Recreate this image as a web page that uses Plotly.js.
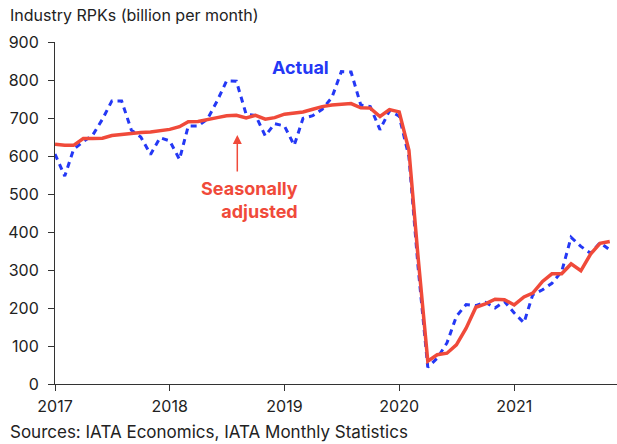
<!DOCTYPE html>
<html>
<head>
<meta charset="utf-8">
<script src="https://cdn.plot.ly/plotly-3.0.1.min.js"></script>
<style>html,body{margin:0;padding:0;background:#fff;}#chart{width:617px;height:444px;}</style>
</head>
<body>
<div id="chart"></div>
<script>
const months = [
 "2017-01-01","2017-02-01","2017-03-01","2017-04-01","2017-05-01","2017-06-01","2017-07-01","2017-08-01","2017-09-01","2017-10-01","2017-11-01","2017-12-01",
 "2018-01-01","2018-02-01","2018-03-01","2018-04-01","2018-05-01","2018-06-01","2018-07-01","2018-08-01","2018-09-01","2018-10-01","2018-11-01","2018-12-01",
 "2019-01-01","2019-02-01","2019-03-01","2019-04-01","2019-05-01","2019-06-01","2019-07-01","2019-08-01","2019-09-01","2019-10-01","2019-11-01","2019-12-01",
 "2020-01-01","2020-02-01","2020-03-01","2020-04-01","2020-05-01","2020-06-01","2020-07-01","2020-08-01","2020-09-01","2020-10-01","2020-11-01","2020-12-01",
 "2021-01-01","2021-02-01","2021-03-01","2021-04-01","2021-05-01","2021-06-01","2021-07-01","2021-08-01","2021-09-01","2021-10-01","2021-11-01"
];
const actual = [
 605,547,617,638,655,697,745,745,668,650,604,648,
 640,591,679,679,697,745,798,797,710,707,653,685,
 679,628,699,706,723,754,822,821,734,730,669,719,
 705,598,309,44,68,108,178,209,206,215,200,217,
 187,161,235,248,265,296,386,362,344,372,353
];
const seasonallyAdjusted = [
 631,628,628,646,646,647,654,657,660,662,663,666,
 670,677,690,691,695,701,706,707,700,707,697,701,
 710,712,716,723,730,734,735,738,727,726,704,722,
 716,615,335,60,77,81,103,147,202,211,223,222,
 208,229,239,270,290,290,316,298,342,370,375
];
const yTicks = [0,100,200,300,400,500,600,700,800,900];
const xTicks = ["2017-01-01","2018-01-01","2019-01-01","2020-01-01","2021-01-01"];
const xTickLabels = ["2017","2018","2019","2020","2021"];

const blue = "#2438f5";
const red = "#f04a3a";
const font = "Inter, 'Noto Sans', Arial, sans-serif";

const traces = [
 {x: months, y: actual, type: "scatter", mode: "lines", name: "Actual",
  line: {color: blue, width: 3, dash: "6px,5px"}, hoverinfo: "skip"},
 {x: months, y: seasonallyAdjusted, type: "scatter", mode: "lines", name: "Seasonally adjusted",
  line: {color: red, width: 3.5}, hoverinfo: "skip"}
];

const layout = {
 width: 617, height: 444,
 margin: {l: 55, r: 0, t: 42, b: 60},
 paper_bgcolor: "#fff", plot_bgcolor: "#fff",
 showlegend: false,
 font: {family: font, size: 16, color: "#222"},
 xaxis: {
  type: "date", range: ["2017-01-01", "2021-11-24"],
  tickmode: "array", tickvals: xTicks, ticktext: xTickLabels,
  showgrid: false, zeroline: false, showline: true, linecolor: "#333", linewidth: 1,
  ticks: "outside", ticklen: 6, tickcolor: "#333", ticklabelstandoff: 2,
  tickfont: {size: 16, color: "#222"}
 },
 yaxis: {
  range: [0, 900], tickmode: "array", tickvals: yTicks,
  showgrid: false, zeroline: false, showline: true, linecolor: "#333", linewidth: 1,
  ticks: "outside", ticklen: 6, tickcolor: "#333", ticklabelstandoff: 6,
  tickfont: {size: 16, color: "#222"}
 },
 annotations: [
  {xref: "paper", yref: "paper", x: -0.083, y: 1.045, xanchor: "left", yanchor: "bottom",
   text: "Industry RPKs (billion per month)", showarrow: false, font: {size: 16, color: "#222"}},
  {xref: "paper", yref: "paper", x: -0.083, y: -0.105, xanchor: "left", yanchor: "top",
   text: "Sources: IATA Economics, IATA Monthly Statistics", showarrow: false, font: {size: 17, color: "#222"}},
  {x: "2019-02-21", y: 833, text: "<b>Actual</b>", showarrow: false, font: {size: 18, color: blue}},
  {x: "2019-02-18", y: 483, xanchor: "right", align: "right", text: "<b>Seasonally<br>adjusted</b>",
   showarrow: false, font: {size: 18, color: red}},
  {x: "2018-08-04", y: 655, ax: 0, ay: 38, text: "", showarrow: true,
   arrowhead: 2, arrowsize: 1.2, arrowwidth: 1.5, arrowcolor: red}
 ]
};

Plotly.newPlot("chart", traces, layout, {staticPlot: true, displayModeBar: false});
</script>
</body>
</html>
